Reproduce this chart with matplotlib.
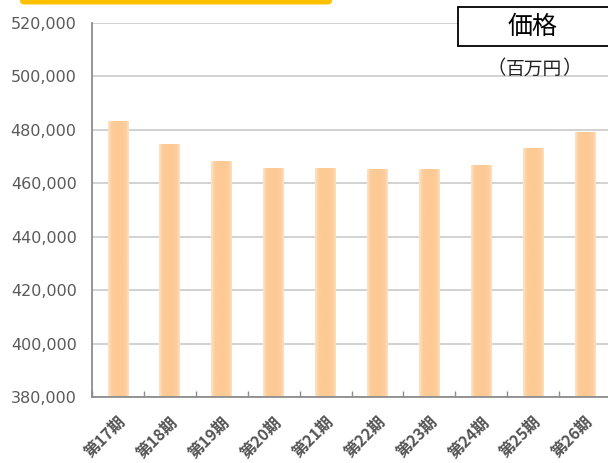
import matplotlib
matplotlib.use("Agg")
import matplotlib.pyplot as plt
from matplotlib.patches import FancyBboxPatch, Rectangle
from matplotlib.ticker import FuncFormatter, MultipleLocator, FixedLocator
from matplotlib.colors import LinearSegmentedColormap
import numpy as np

categories = ["第17期", "第18期", "第19期", "第20期", "第21期",
              "第22期", "第23期", "第24期", "第25期", "第26期"]
values = [483100, 474400, 468100, 465700, 465700,
          465000, 465200, 466600, 472900, 479000]
y_min, y_max, y_step = 380000, 520000, 20000
title_text = "価格"
unit_text = "百万円"

W, H = 608, 463
fig = plt.figure(figsize=(W / 100, H / 100), dpi=100)
fig.patch.set_facecolor("white")
CJK = ["Noto Sans CJK JP", "DejaVu Sans"]

ax = fig.add_axes([92 / W, 1 - 397 / H, 519 / W, (397 - 23) / H])
x = np.arange(len(categories))
bars = ax.bar(x, values, width=0.4, color="#FDCB97", edgecolor="none", zorder=3)

# horizontal gradient fill for each bar (lighter edges)
cmap = LinearSegmentedColormap.from_list(
    "barfill", [(0.0, "#FFE3C6"), (0.18, "#FDCC99"), (0.55, "#FDC993"),
                (0.85, "#FDCD9C"), (1.0, "#FFE0C0")])
grad = np.linspace(0, 1, 64).reshape(1, -1)
for b in bars:
    bx, bw, bh = b.get_x(), b.get_width(), b.get_height()
    b.set_facecolor("none")
    ax.imshow(grad, cmap=cmap, aspect="auto", interpolation="bilinear",
              extent=(bx, bx + bw, y_min, bh), zorder=3)

ax.set_xlim(-0.5, len(categories) - 0.5)
ax.set_ylim(y_min, y_max)
ax.yaxis.set_major_locator(MultipleLocator(y_step))
ax.yaxis.set_major_formatter(FuncFormatter(lambda v, p: f"{int(v):,}"))
ax.grid(axis="y", color="#d2d2d2", linewidth=1.4, zorder=0)
ax.set_axisbelow(True)
for s in ["top", "right"]:
    ax.spines[s].set_visible(False)
for s in ["left", "bottom"]:
    ax.spines[s].set_color("#8c8c8c")
    ax.spines[s].set_linewidth(1.3)
    ax.spines[s].set_zorder(4)
ax.tick_params(axis="y", colors="#8c8c8c", length=0, width=1.0, labelcolor="#5a5a5a",
               labelsize=11.5, pad=11)
ax.set_xticks(x)
ax.set_xticklabels(categories, rotation=45, ha="right", va="top",
                   rotation_mode="anchor", fontsize=11.5, color="#555555",
                   family=CJK, fontweight="bold")
ax.tick_params(axis="x", length=0, pad=12)
ax.xaxis.set_minor_locator(FixedLocator(np.arange(-0.5, len(categories), 1.0)))
ax.tick_params(axis="x", which="minor", direction="in", length=4, color="#8c8c8c", width=1.0)

# top yellow bar (cropped rounded shape)
fig.patches.append(FancyBboxPatch((20 / W, 1 - 4.5 / H), (332 - 20) / W, 30 / H,
                                  boxstyle="round,pad=0,rounding_size=0.008",
                                  transform=fig.transFigure, facecolor="#FFC000",
                                  edgecolor="none", zorder=5))
# title box
fig.patches.append(Rectangle((458 / W, 1 - 46 / H), 160 / W, 39 / H,
                             transform=fig.transFigure, facecolor="white",
                             edgecolor="black", linewidth=1.3, zorder=5))
fig.text(533 / W, 1 - 27 / H, title_text, ha="center", va="center", fontsize=18,
         family=CJK, color="black", zorder=6)
fig.text(534 / W, 1 - 69 / H, unit_text, ha="center", va="center", fontsize=13.5,
         family=CJK, color="#222222", zorder=6)
fig.text(496 / W, 1 - 69 / H, "（", ha="center", va="center", fontsize=14,
         family=CJK, color="#222222", zorder=6)
fig.text(572 / W, 1 - 69 / H, "）", ha="center", va="center", fontsize=14,
         family=CJK, color="#222222", zorder=6)

fig.savefig("out.png", dpi=100, facecolor="white")
